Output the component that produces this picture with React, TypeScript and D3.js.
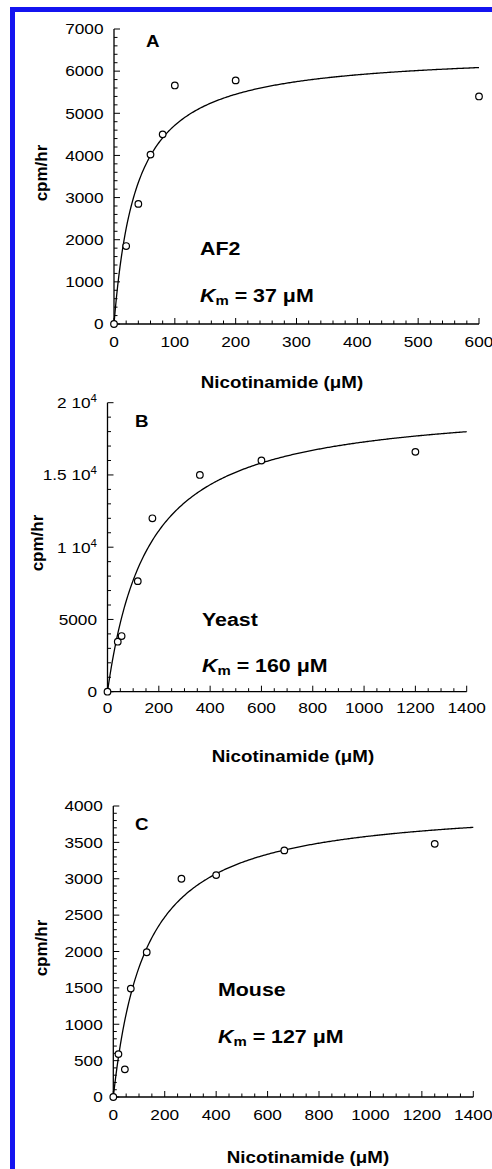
import React from "react";
import * as d3 from "d3";

// ---------- data ----------
const afConc = [0, 20, 40, 60, 80, 100, 200, 600];
const afRate = [0, 1850, 2850, 4020, 4500, 5660, 5780, 5400];

const yeastConc = [0, 40, 55, 118, 175, 360, 600, 1200];
const yeastRate = [0, 3460, 3850, 7650, 12000, 15000, 16000, 16600];

const mouseConc = [0, 20, 45, 68, 130, 265, 400, 665, 1250];
const mouseRate = [0, 590, 380, 1490, 1990, 3000, 3050, 3390, 3480];

// Michaelis–Menten fit parameters (Km printed on the chart, Vmax)
const kmValues = [37, 160, 127];
const vmaxValues = [6460, 20050, 4043];

const panelLetters = ["A", "B", "C"];
const enzymeNames = ["AF2", "Yeast", "Mouse"];

const xMaxes = [600, 1400, 1400];
const xMajorSteps = [100, 200, 200];
const xMinorSteps = [20, 50, 50];

const yMaxes = [7000, 20000, 4000];
const yMajorSteps = [1000, 5000, 500];
const yMinorSteps = [200, 1000, 100];

const yeastTickLabels: [string, string | null][] = [
  ["0", null],
  ["5000", null],
  ["1 10", "4"],
  ["1.5 10", "4"],
  ["2 10", "4"],
];

// ---------- layout ----------
const W = 492;
const H = 1169;
const SX = 1.15; // horizontal stretch of the original lettering
const FONT = "'Liberation Sans', Arial, Helvetica, sans-serif";

const frames = [
  { x0: 114, x1: 479, y0: 324, y1: 29, yLabelX: 47, yLabelY: 173, xTitleX: 282, xTitleY: 388, nameY: 255, kmY: 301.5, textX: 200, letterX: 146, letterY: 46.5, xLabelDy: 22.5 },
  { x0: 107.5, x1: 466.7, y0: 691.7, y1: 402.7, yLabelX: 43, yLabelY: 543, xTitleX: 293, xTitleY: 762, nameY: 625.5, kmY: 672, textX: 202, letterX: 135, letterY: 426.5, xLabelDy: 21 },
  { x0: 113.3, x1: 473.3, y0: 1097, y1: 806, yLabelX: 47, yLabelY: 948, xTitleX: 308, xTitleY: 1162.5, nameY: 996, kmY: 1042.5, textX: 218, letterX: 135, letterY: 829.5, xLabelDy: 23 },
];

const datasets = [
  { conc: afConc, rate: afRate },
  { conc: yeastConc, rate: yeastRate },
  { conc: mouseConc, rate: mouseRate },
];

function T(props: {
  x: number;
  y: number;
  size: number;
  anchor?: "start" | "middle" | "end";
  bold?: boolean;
  children: React.ReactNode;
}) {
  const { x, y, size, anchor = "start", bold = false, children } = props;
  return (
    <text
      transform={`translate(${x},${y}) scale(${SX},1)`}
      fontSize={size}
      fontFamily={FONT}
      fontWeight={bold ? "bold" : "normal"}
      textAnchor={anchor}
      fill="#000"
    >
      {children}
    </text>
  );
}

function Panel({ i }: { i: number }) {
  const f = frames[i];
  const d = datasets[i];
  const km = kmValues[i];
  const vmax = vmaxValues[i];

  const x = d3.scaleLinear().domain([0, xMaxes[i]]).range([f.x0, f.x1]);
  const y = d3.scaleLinear().domain([0, yMaxes[i]]).range([f.y0, f.y1]);

  const xMajor = d3.range(0, xMaxes[i] + 1e-6, xMajorSteps[i]);
  const xMinor = d3.range(0, xMaxes[i] + 1e-6, xMinorSteps[i]);
  const yMajor = d3.range(0, yMaxes[i] + 1e-6, yMajorSteps[i]);
  const yMinor = d3.range(0, yMaxes[i] + 1e-6, yMinorSteps[i]);

  const fitX = d3.range(0, xMaxes[i] + 1e-6, xMaxes[i] / 300);
  const line = d3
    .line<number>()
    .x((c) => x(c))
    .y((c) => y((vmax * c) / (km + c)));

  const majorLen = 6;
  const minorLen = 3.5;

  return (
    <g>
      {/* axes */}
      <line x1={f.x0} x2={f.x0} y1={f.y0} y2={y(yMaxes[i])} stroke="#000" strokeWidth={1.3} />
      <line x1={f.x0} x2={x(xMaxes[i])} y1={f.y0} y2={f.y0} stroke="#000" strokeWidth={1.3} />
      {yMinor.map((v) => {
        const major = yMajor.some((m) => Math.abs(m - v) < 1e-6);
        return (
          <line key={"ym" + v} x1={f.x0} x2={f.x0 + (major ? majorLen : minorLen)} y1={y(v)} y2={y(v)} stroke="#000" strokeWidth={1} />
        );
      })}
      {xMinor.map((v) => {
        const major = xMajor.some((m) => Math.abs(m - v) < 1e-6);
        return (
          <line key={"xm" + v} x1={x(v)} x2={x(v)} y1={f.y0} y2={f.y0 - (major ? majorLen : minorLen)} stroke="#000" strokeWidth={1} />
        );
      })}
      {/* tick labels */}
      {yMajor.map((v, k) => {
        if (i === 1) {
          const [base, sup] = yeastTickLabels[k];
          return (
            <T key={"yl" + v} x={f.x0 - 10.5} y={y(v) + 5.3} size={15} anchor="end">
              {base}
              {sup && (
                <tspan fontSize={10} dy={-6}>
                  {sup}
                </tspan>
              )}
            </T>
          );
        }
        return (
          <T key={"yl" + v} x={f.x0 - 10.5} y={y(v) + 5.3} size={15} anchor="end">
            {String(v)}
          </T>
        );
      })}
      {xMajor.map((v) => (
        <T key={"xl" + v} x={x(v)} y={f.y0 + f.xLabelDy} size={15} anchor="middle">
          {String(v)}
        </T>
      ))}
      {/* fit curve */}
      <path d={line(fitX) || ""} fill="none" stroke="#000" strokeWidth={1.3} />
      {/* points */}
      {d.conc.map((c, k) => (
        <circle key={"p" + k} cx={x(c)} cy={y(d.rate[k])} r={3.3} fill="#fff" stroke="#000" strokeWidth={1.2} />
      ))}
      {/* labels */}
      <T x={f.letterX} y={f.letterY} size={16.3} bold>
        {panelLetters[i]}
      </T>
      <T x={f.textX} y={f.nameY} size={18.6} bold>
        {enzymeNames[i]}
      </T>
      <T x={f.textX} y={f.kmY} size={18.6} bold>
        <tspan fontStyle="italic">K</tspan>
        <tspan fontSize={13} dy={3}>m</tspan>
        <tspan dy={-3}>{` = ${km} \u03bcM`}</tspan>
      </T>
      <T x={f.xTitleX} y={f.xTitleY} size={16.3} bold anchor="middle">
        {"Nicotinamide (\u03bcM)"}
      </T>
      <text
        transform={`translate(${f.yLabelX},${f.yLabelY}) rotate(-90)`}
        fontSize={17}
        fontFamily={FONT}
        fontWeight="bold"
        textAnchor="middle"
      >
        cpm/hr
      </text>
    </g>
  );
}

export default function App() {
  return (
    <svg width={W} height={H} style={{ position: "absolute", left: 0, top: 0, background: "#fff" }}>
      <rect x={0} y={0} width={W} height={H} fill="#fff" />
      {/* blue frame (top and left edges visible) */}
      <rect x={10} y={7} width={W - 10} height={5} fill="#1414f0" />
      <rect x={10} y={7} width={5} height={H - 7} fill="#1414f0" />
      {[0, 1, 2].map((i) => (
        <Panel key={i} i={i} />
      ))}
    </svg>
  );
}
